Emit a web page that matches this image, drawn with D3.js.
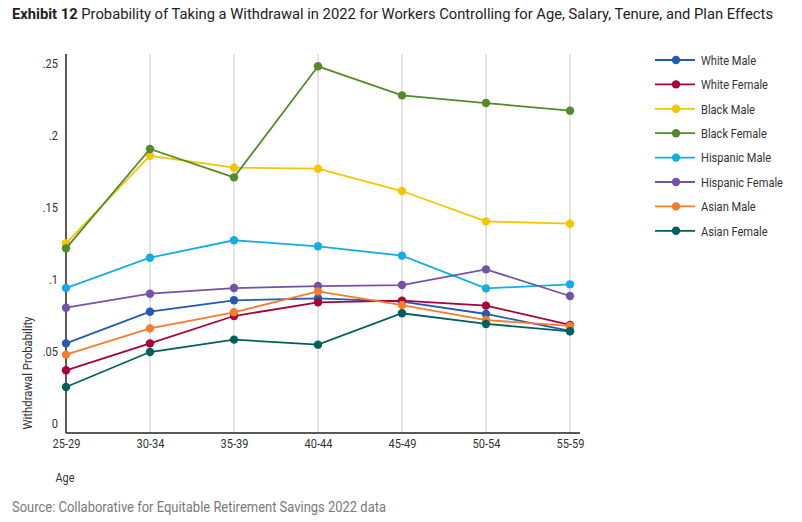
<!DOCTYPE html>
<html>
<head>
<meta charset="utf-8">
<script src="https://cdn.jsdelivr.net/npm/d3@7"></script>
<style>
  html, body { margin: 0; padding: 0; background: #fff; }
  svg { display: block; }
  text { font-family: "Roboto", "Liberation Sans", sans-serif; }
</style>
</head>
<body>
<svg id="chart" width="802" height="522"></svg>
<script>
const ageGroups = ["25-29", "30-34", "35-39", "40-44", "45-49", "50-54", "55-59"];
const seriesNames = ["White Male", "White Female", "Black Male", "Black Female", "Hispanic Male", "Hispanic Female", "Asian Male", "Asian Female"];
const seriesColors = ["#2459b5", "#a8003a", "#f5c500", "#538b2b", "#14ade3", "#7452a6", "#f27d2b", "#00615c"];
const whiteMale      = [0.0553, 0.0773, 0.0852, 0.0866, 0.0843, 0.0757, 0.0639];
const whiteFemale    = [0.0366, 0.0553, 0.0743, 0.0838, 0.0850, 0.0815, 0.0681];
const blackMale      = [0.1248, 0.1856, 0.1773, 0.1766, 0.1611, 0.1400, 0.1384];
const blackFemale    = [0.1213, 0.1903, 0.1706, 0.2477, 0.2275, 0.2222, 0.2169];
const hispanicMale   = [0.0937, 0.1148, 0.1269, 0.1227, 0.1162, 0.0935, 0.0963];
const hispanicFemale = [0.0801, 0.0898, 0.0937, 0.0951, 0.0958, 0.1067, 0.0882];
const asianMale      = [0.0475, 0.0657, 0.0769, 0.0914, 0.0819, 0.0715, 0.0674];
const asianFemale    = [0.0250, 0.0493, 0.0579, 0.0544, 0.0762, 0.0688, 0.0637];
const yTicks = [0, 0.05, 0.1, 0.15, 0.2, 0.25];
const yTickLabels = ["0", ".05", ".1", ".15", ".2", ".25"];

const allValues = [whiteMale, whiteFemale, blackMale, blackFemale, hispanicMale, hispanicFemale, asianMale, asianFemale];
const series = seriesNames.map((name, i) => ({ name, color: seriesColors[i], values: allValues[i] }));

const svg = d3.select("#chart");

// Title
const title = svg.append("text").attr("x", 12).attr("y", 19).attr("font-size", 15).attr("fill", "#222");
title.append("tspan").attr("font-weight", "bold").text("Exhibit 12");
title.append("tspan").text(" Probability of Taking a Withdrawal in 2022 for Workers Controlling for Age, Salary, Tenure, and Plan Effects");

const plotLeft = 66, plotRight = 580, plotTop = 54, plotBottom = 433;

const x = d3.scalePoint().domain(ageGroups).range([66, 570]);
const y = d3.scaleLinear().domain([0, 0.25]).range([423, 63]);

// vertical gridlines
svg.append("g").selectAll("line").data(ageGroups.slice(1)).join("line")
  .attr("x1", d => x(d)).attr("x2", d => x(d))
  .attr("y1", plotTop).attr("y2", plotBottom)
  .attr("stroke", "#dcdcdc").attr("stroke-width", 1.5);

// y axis
const yAxis = d3.axisLeft(y).tickValues(yTicks).tickFormat((d, i) => yTickLabels[i]).tickSize(0).tickPadding(8);
const yg = svg.append("g").attr("transform", `translate(${plotLeft},0)`).call(yAxis);
yg.select(".domain").remove();
yg.selectAll("text").attr("font-size", 13.5).attr("fill", "#333").attr("font-family", null).classed("cond", true);
svg.append("line").attr("x1", plotLeft).attr("x2", plotLeft).attr("y1", plotTop).attr("y2", plotBottom)
  .attr("stroke", "#222").attr("stroke-width", 1.5);

// x axis
const xAxis = d3.axisBottom(x).tickSize(0).tickPadding(5);
const xg = svg.append("g").attr("transform", `translate(0,${plotBottom})`).call(xAxis);
xg.select(".domain").remove();
xg.selectAll("text").attr("font-size", 13.5).attr("fill", "#333").attr("font-family", null).classed("cond", true);
svg.append("line").attr("x1", plotLeft).attr("x2", plotRight).attr("y1", plotBottom).attr("y2", plotBottom)
  .attr("stroke", "#222").attr("stroke-width", 1.5);

// axis titles
const yTitle = svg.append("text").attr("transform", "translate(32,373) rotate(-90)").attr("text-anchor", "middle")
  .attr("font-size", 13.5).attr("fill", "#333").text("Withdrawal Probability");
const xTitle = svg.append("text").attr("x", 65).attr("y", 482).attr("text-anchor", "middle")
  .attr("font-size", 13.5).attr("fill", "#333").text("Age");

// lines
const line = d3.line().x((d, i) => x(ageGroups[i])).y(d => y(d));
const sg = svg.append("g").selectAll("g").data(series).join("g");
sg.append("path").attr("d", d => line(d.values)).attr("fill", "none")
  .attr("stroke", d => d.color).attr("stroke-width", 1.8);
sg.selectAll("circle").data(d => d.values.map(v => ({ v, color: d.color }))).join("circle")
  .attr("cx", (d, i) => x(ageGroups[i])).attr("cy", d => y(d.v)).attr("r", 4.2)
  .attr("fill", d => d.color);

// legend
const legend = svg.append("g").selectAll("g").data(series).join("g")
  .attr("transform", (d, i) => `translate(0,${60 + i * 24.4})`);
legend.append("line").attr("x1", 655).attr("x2", 695).attr("y1", 0).attr("y2", 0)
  .attr("stroke", d => d.color).attr("stroke-width", 1.8);
legend.append("circle").attr("cx", 676).attr("cy", 0).attr("r", 4.2).attr("fill", d => d.color);
legend.append("text").attr("class", "cond").attr("x", 701).attr("y", 4.8).attr("font-size", 13.5).attr("fill", "#333").text(d => d.name);

// source
const source = svg.append("text").attr("x", 12).attr("y", 512).attr("font-size", 14).attr("fill", "#7a7a7a")
  .text("Source: Collaborative for Equitable Retirement Savings 2022 data");

// condense text to mimic the narrow typeface of the original
const ref = legend.filter(d => d.name === "Hispanic Female").select("text").node();
const k = 82 / ref.getComputedTextLength();
svg.selectAll("text.cond").each(function () {
  const len = this.getComputedTextLength();
  d3.select(this).attr("textLength", len * k).attr("lengthAdjust", "spacingAndGlyphs");
});
title.attr("textLength", 761).attr("lengthAdjust", "spacingAndGlyphs");
source.attr("textLength", 374).attr("lengthAdjust", "spacingAndGlyphs");
yTitle.attr("textLength", 113).attr("lengthAdjust", "spacingAndGlyphs");
xTitle.attr("textLength", 19).attr("lengthAdjust", "spacingAndGlyphs");
</script>
</body>
</html>
